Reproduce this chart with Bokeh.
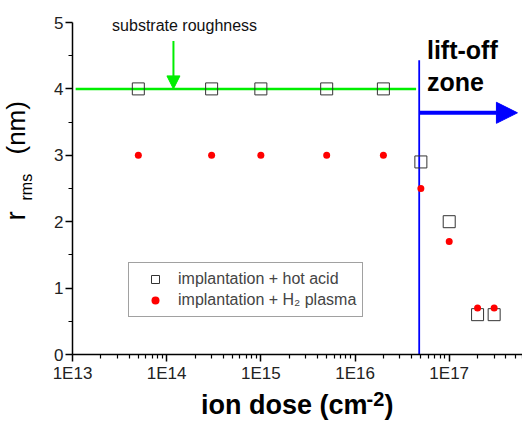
import math
from bokeh.plotting import figure
from bokeh.models import (FixedTicker, CustomJSTickFormatter, Label, Arrow, NormalHead,
                          Legend, LegendItem, LogAxis, LinearAxis)
from bokeh.embed import file_html
from bokeh.resources import INLINE

# ---- data ----
dose_acid = [5e13, 3e14, 1e15, 5e15, 2e16, 5e16, 1e17, 2e17, 3e17]
rms_acid = [4.0, 4.0, 4.0, 4.0, 4.0, 2.9, 2.0, 0.6, 0.6]
dose_plasma = [5e13, 3e14, 1e15, 5e15, 2e16, 5e16, 1e17, 2e17, 3e17]
rms_plasma = [3.0, 3.0, 3.0, 3.0, 3.0, 2.5, 1.7, 0.7, 0.7]

substrate_x = [1.08e13, 4.45e16]
substrate_y = [4.0, 4.0]
liftoff_x = [4.8e16, 4.8e16]
liftoff_y = [0.0, 4.43]

x_bounds = (1e13, 6e17)
y_bounds = (0, 5)
x_major = [1e13, 1e14, 1e15, 1e16, 1e17]
y_major = [0, 1, 2, 3, 4, 5]
y_minor = [0.5, 1.5, 2.5, 3.5, 4.5]

FONT = "Liberation Sans"
W, H = 522, 424
# data area inside the canvas (pixels)
AX_LEFT, AX_RIGHT, AX_TOP, AX_BOTTOM = 72, 522, 22, 354

decade = (AX_RIGHT - AX_LEFT) / math.log10(x_bounds[1] / x_bounds[0])
x_start = 10 ** (math.log10(x_bounds[0]) - AX_LEFT / decade)
x_end = 10 ** (math.log10(x_bounds[1]) + (W - AX_RIGHT) / decade)
unit = (AX_BOTTOM - AX_TOP) / (y_bounds[1] - y_bounds[0])
y_start = y_bounds[0] - (H - AX_BOTTOM) / unit
y_end = y_bounds[1] + AX_TOP / unit

p = figure(width=W, height=H, x_axis_type="log", x_range=(x_start, x_end), y_range=(y_start, y_end),
           output_backend="svg", toolbar_location=None, x_axis_location=None, y_axis_location=None,
           min_border=0)
p.grid.visible = False
p.outline_line_color = None
p.background_fill_color = "white"

x_minor = [k * 10 ** n for n in range(13, 18) for k in range(2, 10) if k * 10 ** n <= x_bounds[1]]
xaxis = LogAxis(fixed_location=y_bounds[0], bounds=x_bounds,
                ticker=FixedTicker(ticks=x_major, minor_ticks=x_minor),
                formatter=CustomJSTickFormatter(code="return '1E' + Math.round(Math.log10(tick));"))
yaxis = LinearAxis(fixed_location=x_bounds[0], bounds=y_bounds,
                   ticker=FixedTicker(ticks=y_major, minor_ticks=y_minor))
p.add_layout(xaxis, "below")
p.add_layout(yaxis, "left")

for ax in (xaxis, yaxis):
    ax.axis_line_width = 1.5
    ax.axis_line_color = "black"
    ax.major_tick_line_color = "black"
    ax.minor_tick_line_color = "black"
    ax.major_tick_line_width = 1.5
    ax.minor_tick_line_width = 1.2
    ax.major_tick_in = 0
    ax.major_tick_out = 7
    ax.minor_tick_in = 0
    ax.minor_tick_out = 4
    ax.major_label_text_font = FONT
    ax.major_label_text_font_size = "17px"
    ax.major_label_text_color = "#222"
    ax.major_label_standoff = 2

# reference lines
p.line(substrate_x, substrate_y, line_color="#00ee00", line_width=2.5)
p.line(liftoff_x, liftoff_y, line_color="#0000ff", line_width=1.8)

# data
r1 = p.scatter(dose_acid, rms_acid, marker="square", size=12, fill_color=None,
               line_color="#333333", line_width=1)
r2 = p.scatter(dose_plasma, rms_plasma, marker="circle", size=7, fill_color="#ff0000",
               line_color=None)

# arrows
p.add_layout(Arrow(x_start=1.18e14, y_start=4.72, x_end=1.18e14, y_end=4.0,
                   line_color="#00ee00", line_width=2,
                   end=NormalHead(size=13, fill_color="#00ee00", line_color="#00ee00", line_width=1)))
p.add_layout(Arrow(x_start=4.8e16, y_start=3.64, x_end=5.3e17, y_end=3.64,
                   line_color="#0000ff", line_width=4,
                   end=NormalHead(size=21, fill_color="#0000ff", line_color="#0000ff", line_width=1)))

# texts
p.add_layout(Label(x=1.55e14, y=4.82, text="substrate roughness", text_align="center",
                   text_font=FONT, text_font_size="16px", text_color="#111"))
p.add_layout(Label(x=5.8e16, y=4.38, text="lift-off", text_font=FONT, text_font_size="25px",
                   text_font_style="bold", text_color="black"))
p.add_layout(Label(x=5.8e16, y=3.9, text="zone", text_font=FONT, text_font_size="25px",
                   text_font_style="bold", text_color="black"))

# legend
legend = Legend(items=[LegendItem(label="implantation + hot acid", renderers=[r1]),
                       LegendItem(label="implantation + H\u2082 plasma", renderers=[r2])],
                location=(128, 107), label_text_font=FONT, label_text_font_size="16px",
                glyph_width=40, glyph_height=20, label_standoff=3, padding=6, spacing=1,
                border_line_color="#444", border_line_width=1, background_fill_alpha=1,
                margin=0)
p.add_layout(legend, "center")

# x axis label (screen units, frame == canvas, origin bottom-left)
p.add_layout(Label(x=367, y=5, x_units="screen", y_units="screen", text="ion dose (cm",
                   text_align="right", text_font=FONT, text_font_size="27px",
                   text_font_style="bold", text_color="black"))
p.add_layout(Label(x=366, y=19, x_units="screen", y_units="screen", text="-2",
                   text_align="left", text_font=FONT, text_font_size="20px",
                   text_font_style="bold", text_color="black"))
p.add_layout(Label(x=384, y=5, x_units="screen", y_units="screen", text=")",
                   text_align="left", text_font=FONT, text_font_size="27px",
                   text_font_style="bold", text_color="black"))

# y axis label (rotated)
p.add_layout(Label(x=30, y=204, x_units="screen", y_units="screen", text="r",
                   angle=math.pi / 2, text_font=FONT, text_font_size="28px", text_color="black"))
p.add_layout(Label(x=34, y=224, x_units="screen", y_units="screen", text="rms",
                   angle=math.pi / 2, text_font=FONT, text_font_size="16px", text_color="black"))
p.add_layout(Label(x=30, y=270, x_units="screen", y_units="screen", text="(nm)",
                   angle=math.pi / 2, text_font=FONT, text_font_size="26px", text_color="black"))

open("out.html", "w").write(file_html(p, INLINE))
